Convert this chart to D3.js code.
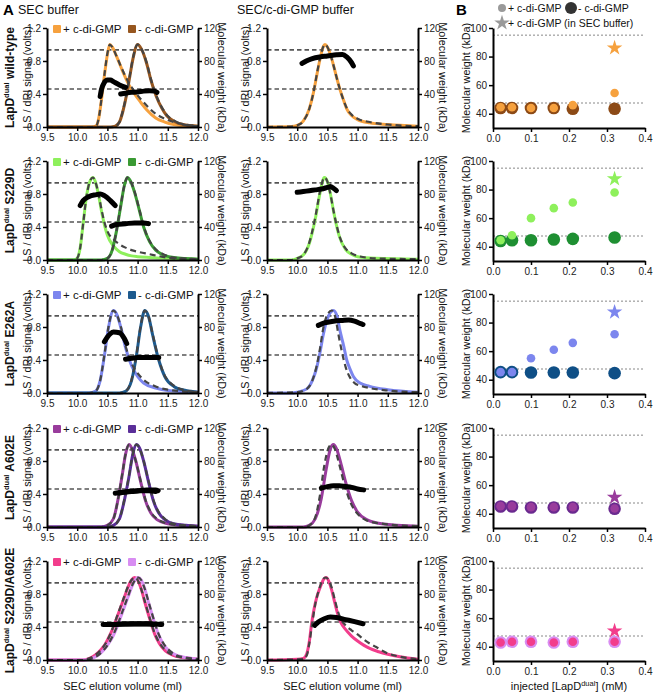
<!DOCTYPE html>
<html><head><meta charset="utf-8">
<script src="https://cdn.jsdelivr.net/npm/d3@7"></script>
<style>body{margin:0;background:#fff}svg{font-family:"Liberation Sans",Arial,Helvetica,sans-serif}</style>
</head><body><svg id="c" width="656" height="696"></svg>
<script>
// ---------------- DATA ----------------
// elution volume (ml) vs normalized signal; MW traces in kDa
const wtSecPlus = [[9.5,0],[10.25,0],[10.32,0.02],[10.36,0.12],[10.4,0.32],[10.45,0.62],[10.5,0.88],[10.54,1.0],[10.58,0.97],[10.65,0.86],[10.75,0.68],[10.85,0.52],[10.95,0.4],[11.05,0.3],[11.15,0.21],[11.3,0.11],[11.45,0.06],[11.6,0.03],[11.8,0.015],[12.0,0.01]];
const wtSecPlusLS = [[9.5,0],[10.25,0],[10.32,0.02],[10.36,0.12],[10.4,0.33],[10.45,0.63],[10.5,0.89],[10.54,1.0],[10.58,0.97],[10.65,0.86],[10.75,0.69],[10.85,0.54],[10.95,0.43],[11.05,0.34],[11.15,0.26],[11.3,0.16],[11.45,0.1],[11.6,0.06],[11.8,0.03],[12.0,0.01]];
const wtSecMinus = [[9.5,0],[10.55,0],[10.63,0.01],[10.7,0.06],[10.76,0.2],[10.82,0.4],[10.87,0.61],[10.93,0.85],[11.0,1.0],[11.06,0.95],[11.15,0.77],[11.22,0.57],[11.31,0.37],[11.4,0.23],[11.48,0.14],[11.6,0.07],[11.75,0.03],[12.0,0.01]];
const wtSecMinusLS = [[9.5,0],[10.55,0],[10.63,0.01],[10.7,0.06],[10.76,0.21],[10.82,0.41],[10.87,0.62],[10.93,0.86],[11.0,1.0],[11.06,0.95],[11.15,0.78],[11.22,0.58],[11.31,0.38],[11.4,0.24],[11.48,0.15],[11.6,0.08],[11.75,0.03],[12.0,0.01]];
const wtSecPlusMW = [[10.38,37],[10.4,45],[10.45,54],[10.5,57],[10.55,57],[10.6,55],[10.7,51],[10.8,48]];
const wtSecMinusMW = [[10.72,40],[10.8,41],[10.9,42],[11.0,42.5],[11.1,43.5],[11.2,44],[11.28,43.5],[11.32,42]];
const wtCdg = [[9.5,0],[9.9,0.005],[10.0,0.02],[10.1,0.07],[10.2,0.22],[10.27,0.42],[10.33,0.65],[10.38,0.83],[10.43,0.97],[10.46,1.0],[10.5,0.97],[10.55,0.88],[10.6,0.75],[10.66,0.58],[10.71,0.45],[10.77,0.32],[10.82,0.22],[10.9,0.14],[11.0,0.09],[11.2,0.05],[11.5,0.03],[12.0,0.01]];
const wtCdgLS = [[9.5,0],[9.9,0.005],[10.0,0.02],[10.1,0.07],[10.2,0.22],[10.27,0.42],[10.33,0.66],[10.38,0.84],[10.43,0.97],[10.46,1.0],[10.5,0.97],[10.55,0.88],[10.6,0.75],[10.66,0.58],[10.71,0.45],[10.77,0.32],[10.82,0.23],[10.9,0.15],[11.0,0.1],[11.2,0.06],[11.5,0.03],[12.0,0.01]];
const wtCdgMW = [[10.08,77],[10.15,80],[10.25,83],[10.38,85],[10.5,86],[10.65,87.5],[10.75,88],[10.82,85],[10.9,78],[10.93,74]];

const s229dSecPlus = [[9.5,0],[9.95,0],[10.0,0.02],[10.05,0.15],[10.1,0.45],[10.15,0.75],[10.2,0.93],[10.26,1.0],[10.3,0.95],[10.35,0.8],[10.4,0.6],[10.45,0.43],[10.5,0.3],[10.6,0.17],[10.7,0.1],[10.8,0.07],[10.9,0.05],[11.0,0.04],[11.2,0.03],[11.5,0.02],[12.0,0.01]];
const s229dSecPlusLS = [[9.5,0],[9.95,0],[10.0,0.02],[10.05,0.15],[10.1,0.45],[10.15,0.75],[10.2,0.93],[10.26,1.0],[10.3,0.95],[10.35,0.81],[10.4,0.62],[10.45,0.46],[10.5,0.35],[10.6,0.25],[10.7,0.19],[10.8,0.15],[10.9,0.12],[11.0,0.1],[11.2,0.07],[11.4,0.04],[11.6,0.02],[12.0,0.01]];
const s229dSecMinus = [[9.5,0],[10.4,0],[10.5,0.02],[10.58,0.12],[10.65,0.35],[10.72,0.65],[10.78,0.9],[10.83,1.0],[10.88,0.96],[10.95,0.82],[11.03,0.6],[11.1,0.4],[11.2,0.22],[11.3,0.12],[11.4,0.07],[11.6,0.03],[12.0,0.01]];
const s229dSecMinusLS = [[9.5,0],[10.4,0],[10.5,0.02],[10.58,0.12],[10.65,0.35],[10.72,0.66],[10.78,0.9],[10.83,1.0],[10.88,0.96],[10.95,0.83],[11.03,0.61],[11.1,0.41],[11.2,0.23],[11.3,0.13],[11.4,0.08],[11.6,0.03],[12.0,0.01]];
const s229dSecPlusMW = [[10.05,66],[10.1,72],[10.2,77],[10.3,79],[10.38,80],[10.45,78],[10.55,72],[10.63,66]];
const s229dSecMinusMW = [[10.57,41],[10.65,43],[10.8,44],[10.95,45],[11.1,45],[11.18,44]];
const s229dCdg = [[9.5,0],[9.9,0],[10.0,0.02],[10.1,0.06],[10.2,0.2],[10.3,0.5],[10.38,0.82],[10.45,1.0],[10.5,0.95],[10.55,0.8],[10.6,0.6],[10.65,0.42],[10.7,0.28],[10.8,0.13],[10.9,0.07],[11.0,0.04],[11.3,0.02],[12.0,0.01]];
const s229dCdgLS = [[9.5,0],[9.9,0],[10.0,0.02],[10.1,0.06],[10.2,0.21],[10.3,0.52],[10.38,0.84],[10.45,1.0],[10.5,0.95],[10.55,0.8],[10.6,0.6],[10.65,0.43],[10.7,0.29],[10.8,0.14],[10.9,0.08],[11.0,0.05],[11.3,0.02],[12.0,0.01]];
const s229dCdgMW = [[10.0,82],[10.1,83],[10.2,84],[10.3,85],[10.4,86],[10.5,88],[10.55,89],[10.6,87],[10.65,84]];

const e262aSecPlus = [[9.5,0],[10.2,0],[10.3,0.02],[10.38,0.15],[10.45,0.45],[10.52,0.8],[10.6,1.0],[10.65,0.96],[10.72,0.8],[10.8,0.55],[10.9,0.33],[11.0,0.2],[11.1,0.12],[11.3,0.06],[11.5,0.03],[12.0,0.01]];
const e262aSecPlusLS = [[9.5,0],[10.2,0],[10.3,0.02],[10.38,0.15],[10.45,0.46],[10.52,0.81],[10.6,1.0],[10.65,0.96],[10.72,0.81],[10.8,0.57],[10.9,0.36],[11.0,0.24],[11.1,0.16],[11.3,0.08],[11.5,0.04],[12.0,0.01]];
const e262aSecMinus = [[9.5,0],[10.7,0],[10.8,0.02],[10.9,0.15],[10.98,0.45],[11.05,0.8],[11.12,1.0],[11.18,0.93],[11.25,0.7],[11.35,0.4],[11.45,0.2],[11.6,0.08],[11.8,0.03],[12.0,0.01]];
const e262aSecMinusLS = [[9.5,0],[10.7,0],[10.8,0.02],[10.9,0.16],[10.98,0.46],[11.05,0.81],[11.12,1.0],[11.18,0.93],[11.25,0.71],[11.35,0.41],[11.45,0.21],[11.6,0.09],[11.8,0.03],[12.0,0.01]];
const e262aSecPlusMW = [[10.45,62],[10.5,68],[10.55,72],[10.6,74],[10.7,73],[10.78,66],[10.82,60]];
const e262aSecMinusMW = [[10.8,41],[10.9,42],[11.0,43],[11.2,43],[11.35,43]];
const e262aCdg = [[9.5,0],[9.9,0],[10.0,0.01],[10.16,0.05],[10.25,0.15],[10.32,0.3],[10.38,0.5],[10.43,0.7],[10.5,0.9],[10.6,1.0],[10.66,0.93],[10.71,0.75],[10.77,0.57],[10.82,0.4],[10.88,0.28],[10.93,0.2],[11.04,0.12],[11.2,0.08],[11.5,0.04],[12.0,0.01]];
const e262aCdgLS = [[9.5,0],[10.0,0.01],[10.16,0.05],[10.25,0.15],[10.32,0.32],[10.38,0.55],[10.43,0.78],[10.5,0.95],[10.57,1.0],[10.63,0.92],[10.68,0.72],[10.74,0.5],[10.8,0.32],[10.88,0.18],[10.95,0.12],[11.04,0.09],[11.2,0.06],[11.5,0.03],[12.0,0.01]];
const e262aCdgMW = [[10.35,82],[10.45,85],[10.6,87],[10.75,88],[10.85,88.5],[10.95,87],[11.05,84],[11.09,83]];

const a602eSecPlus = [[9.5,0],[10.4,0],[10.5,0.02],[10.6,0.1],[10.68,0.35],[10.75,0.65],[10.8,0.88],[10.86,1.0],[10.9,0.96],[10.97,0.8],[11.05,0.55],[11.13,0.32],[11.22,0.17],[11.32,0.09],[11.5,0.04],[11.7,0.02],[12.0,0.01]];
const a602eSecPlusLS = [[9.5,0],[10.4,0],[10.5,0.02],[10.6,0.1],[10.68,0.35],[10.75,0.66],[10.8,0.88],[10.86,1.0],[10.9,0.96],[10.97,0.8],[11.05,0.56],[11.13,0.33],[11.22,0.18],[11.32,0.1],[11.5,0.04],[11.7,0.02],[12.0,0.01]];
const a602eSecMinus = [[9.5,0],[10.5,0],[10.6,0.02],[10.7,0.1],[10.78,0.32],[10.86,0.62],[10.92,0.88],[10.98,1.0],[11.03,0.96],[11.1,0.8],[11.18,0.55],[11.26,0.32],[11.35,0.17],[11.45,0.09],[11.6,0.04],[11.8,0.02],[12.0,0.01]];
const a602eSecMinusLS = [[9.5,0],[10.5,0],[10.6,0.02],[10.7,0.1],[10.78,0.33],[10.86,0.63],[10.92,0.88],[10.98,1.0],[11.03,0.96],[11.1,0.8],[11.18,0.56],[11.26,0.33],[11.35,0.18],[11.45,0.1],[11.6,0.04],[11.8,0.02],[12.0,0.01]];
const a602eSecPlusMW = [[10.63,41],[10.75,42],[10.9,43],[11.05,44],[11.2,44],[11.3,43]];
const a602eSecMinusMW = [[10.7,41],[10.85,43],[11.0,44],[11.15,45],[11.3,45],[11.34,44]];
const a602eCdg = [[9.5,0],[10.1,0],[10.2,0.02],[10.3,0.1],[10.4,0.35],[10.48,0.7],[10.55,0.95],[10.6,1.0],[10.65,0.95],[10.72,0.78],[10.8,0.55],[10.9,0.32],[11.0,0.18],[11.15,0.09],[11.4,0.04],[12.0,0.01]];
const a602eCdgLS = [[9.5,0],[10.1,0],[10.2,0.02],[10.3,0.12],[10.38,0.4],[10.45,0.75],[10.52,0.96],[10.57,1.0],[10.62,0.95],[10.7,0.75],[10.78,0.52],[10.88,0.3],[11.0,0.16],[11.15,0.08],[11.4,0.04],[12.0,0.01]];
const a602eCdgMW = [[10.4,47],[10.5,49],[10.6,50],[10.7,50],[10.8,49],[10.9,48],[11.0,46],[11.1,45]];

const dmSecPlus = [[9.5,0],[10.1,0],[10.2,0.02],[10.3,0.06],[10.4,0.13],[10.47,0.2],[10.54,0.3],[10.6,0.4],[10.65,0.5],[10.72,0.64],[10.78,0.76],[10.84,0.88],[10.9,0.97],[10.95,1.0],[11.0,0.97],[11.06,0.86],[11.12,0.7],[11.2,0.5],[11.28,0.32],[11.36,0.2],[11.46,0.11],[11.58,0.06],[11.75,0.03],[12.0,0.01]];
const dmSecPlusLS = [[9.5,0],[10.1,0],[10.2,0.02],[10.3,0.06],[10.4,0.13],[10.47,0.2],[10.54,0.3],[10.6,0.41],[10.65,0.51],[10.72,0.65],[10.78,0.77],[10.84,0.89],[10.9,0.97],[10.95,1.0],[11.0,0.97],[11.06,0.86],[11.12,0.71],[11.2,0.51],[11.28,0.33],[11.36,0.21],[11.46,0.12],[11.58,0.06],[11.75,0.03],[12.0,0.01]];
const dmSecMinus = [[9.5,0],[10.15,0],[10.25,0.02],[10.35,0.06],[10.45,0.13],[10.52,0.2],[10.6,0.3],[10.66,0.4],[10.71,0.5],[10.78,0.64],[10.84,0.76],[10.9,0.88],[10.96,0.97],[11.01,1.0],[11.06,0.97],[11.12,0.86],[11.18,0.7],[11.26,0.5],[11.34,0.32],[11.42,0.2],[11.52,0.11],[11.64,0.06],[11.8,0.03],[12.0,0.01]];
const dmSecMinusLS = [[9.5,0],[10.15,0],[10.25,0.02],[10.35,0.06],[10.45,0.13],[10.52,0.2],[10.6,0.31],[10.66,0.41],[10.71,0.51],[10.78,0.65],[10.84,0.77],[10.9,0.89],[10.96,0.97],[11.01,1.0],[11.06,0.97],[11.12,0.86],[11.18,0.71],[11.26,0.51],[11.34,0.33],[11.42,0.21],[11.52,0.12],[11.64,0.06],[11.8,0.03],[12.0,0.01]];
const dmSecPlusMW = [[10.43,43],[10.6,43],[10.8,43.5],[11.0,43.5],[11.2,43.5],[11.26,43]];
const dmSecMinusMW = [[10.55,43],[10.75,43.5],[10.95,44],[11.15,44],[11.3,43.5],[11.4,43]];
const dmCdg = [[9.5,0],[10.0,0.01],[10.1,0.02],[10.16,0.08],[10.2,0.22],[10.24,0.45],[10.28,0.62],[10.32,0.75],[10.38,0.88],[10.44,0.98],[10.48,1.0],[10.52,0.96],[10.57,0.85],[10.62,0.7],[10.67,0.56],[10.72,0.46],[10.8,0.37],[10.9,0.29],[11.0,0.23],[11.1,0.18],[11.2,0.14],[11.35,0.1],[11.5,0.07],[11.7,0.04],[12.0,0.01]];
const dmCdgLS = [[9.5,0],[10.1,0.01],[10.16,0.06],[10.2,0.2],[10.25,0.45],[10.3,0.68],[10.36,0.85],[10.42,0.97],[10.47,1.0],[10.52,0.97],[10.57,0.88],[10.62,0.74],[10.67,0.6],[10.72,0.5],[10.8,0.42],[10.9,0.36],[11.0,0.31],[11.1,0.25],[11.2,0.2],[11.3,0.16],[11.5,0.08],[11.7,0.04],[12.0,0.01]];
const dmCdgMW = [[10.29,42],[10.35,46],[10.45,50],[10.55,52],[10.65,51.5],[10.8,49],[10.95,46.5],[11.09,44]];

// Panel B: injected concentration (mM) vs molecular weight (kDa)
const injectedConc = [0.02, 0.05, 0.1, 0.16, 0.21, 0.32];
const wtBPlus = [44.5, 44.5, 44, 44, 46, 54.5];
const wtBMinus = [44, 44, 44, 44, 43.5, 43.5];
const s229dBPlus = [44.5, 48, 60, 67, 71, 78];
const s229dBMinus = [44, 44.5, 44.5, 45, 45.5, 46.5];
const e262aBPlus = [45.3, 45.3, 55, 61, 65.8, 71.8];
const e262aBMinus = [45.3, 45.3, 45, 45, 45, 44.6];
const a602eBPlus = [45.3, 45.3, 44.6, 44.6, 44.6, 43.7];
const a602eBMinus = [45, 45, 44.3, 44.3, 44.3, 43.5];
const dmBPlus = [43, 43.5, 43.5, 43, 43.5, 43.5];
const dmBMinus = [43, 43.5, 43.5, 43, 43.5, 43.5];
const secBufferStar = [86, 87.5, 87.3, 51.5, 51];
const starConc = 0.32;

const rowNames = [" wild-type", " S229D", " E262A", " A602E", " S229D/A602E"];
const plusColors = ["#f6a13e", "#8ef05c", "#7c86ee", "#993c9c", "#f23d8c"];
const minusColors = ["#96561f", "#3a9a33", "#1d5a8e", "#5a2e99", "#d88df2"];
const bMinusColors = ["#8c4a16", "#1e8f32", "#0f4f86", "#6a2a8f", "#d88df2"];
const mwRef = [93.5, 46];      // dashed guides in A (kDa)
const mwRefB = [95, 47.5];     // dotted guides in B (kDa)
const xTicksA = [9.5, 10.0, 10.5, 11.0, 11.5, 12.0];
const yTicksA = [0, 0.4, 0.8, 1.2];
const yTicksAR = [0, 40, 80, 120];
const xTicksB = [0, 0.1, 0.2, 0.3, 0.4];
const yTicksB = [40, 60, 80, 100];

const rows = [
 {sp:wtSecPlus, spl:wtSecPlusLS, sm:wtSecMinus, sml:wtSecMinusLS, spm:wtSecPlusMW, smm:wtSecMinusMW, c:wtCdg, cl:wtCdgLS, cm:wtCdgMW, bp:wtBPlus, bm:wtBMinus},
 {sp:s229dSecPlus, spl:s229dSecPlusLS, sm:s229dSecMinus, sml:s229dSecMinusLS, spm:s229dSecPlusMW, smm:s229dSecMinusMW, c:s229dCdg, cl:s229dCdgLS, cm:s229dCdgMW, bp:s229dBPlus, bm:s229dBMinus},
 {sp:e262aSecPlus, spl:e262aSecPlusLS, sm:e262aSecMinus, sml:e262aSecMinusLS, spm:e262aSecPlusMW, smm:e262aSecMinusMW, c:e262aCdg, cl:e262aCdgLS, cm:e262aCdgMW, bp:e262aBPlus, bm:e262aBMinus},
 {sp:a602eSecPlus, spl:a602eSecPlusLS, sm:a602eSecMinus, sml:a602eSecMinusLS, spm:a602eSecPlusMW, smm:a602eSecMinusMW, c:a602eCdg, cl:a602eCdgLS, cm:a602eCdgMW, bp:a602eBPlus, bm:a602eBMinus},
 {sp:dmSecPlus, spl:dmSecPlusLS, sm:dmSecMinus, sml:dmSecMinusLS, spm:dmSecPlusMW, smm:dmSecMinusMW, c:dmCdg, cl:dmCdgLS, cm:dmCdgMW, bp:dmBPlus, bm:dmBMinus}
];

// ---------------- LAYOUT ----------------
const FONT = '"Liberation Sans", Arial, Helvetica, sans-serif';
const svg = d3.select("#c");
const rowTop = [28, 161, 294, 428, 561];
const hA = 99, hB = 100;
const colA = [47, 267], wA = 151;
const xB0 = 493, xB1 = 645;

function styleAxis(g) {
  g.attr("font-family", FONT).attr("font-size", 10);
  g.select(".domain").attr("stroke", "#000").attr("stroke-width", 2);
  g.selectAll(".tick line").attr("stroke", "#000").attr("stroke-width", 1.5);
  g.selectAll(".tick text").attr("fill", "#222");
}
function vText(x, y, rot, txt, size, weight) {
  return svg.append("text").attr("transform", `translate(${x},${y}) rotate(${rot})`)
    .attr("text-anchor", "middle").attr("dy", "0.35em").attr("font-size", size)
    .attr("font-weight", weight || "normal").attr("fill", "#111").text(txt);
}

// headings
svg.append("text").attr("x", 3).attr("y", 15).attr("font-size", 15).attr("font-weight", "bold").text("A");
svg.append("text").attr("x", 18).attr("y", 14).attr("font-size", 12.5).attr("fill", "#111").text("SEC buffer");
svg.append("text").attr("x", 237).attr("y", 14).attr("font-size", 12.5).attr("fill", "#111").text("SEC/c-di-GMP buffer");
svg.append("text").attr("x", 456).attr("y", 15).attr("font-size", 15).attr("font-weight", "bold").text("B");
// B legend
svg.append("circle").attr("cx", 502).attr("cy", 8).attr("r", 4).attr("fill", "#9a9a9a");
svg.append("text").attr("x", 508).attr("y", 12).attr("font-size", 10.5).attr("fill", "#111").text("+ c-di-GMP");
svg.append("circle").attr("cx", 571).attr("cy", 8).attr("r", 6).attr("fill", "#333");
svg.append("text").attr("x", 578).attr("y", 12).attr("font-size", 10.5).attr("fill", "#111").text("- c-di-GMP");
svg.append("path").attr("d", d3.symbol(d3.symbolStar, 75)()).attr("transform", "translate(502,23)").attr("fill", "#9a9a9a");
svg.append("text").attr("x", 508).attr("y", 27).attr("font-size", 10.5).attr("fill", "#111").text("+ c-di-GMP (in SEC buffer)");

function panelA(ci, ri, traces, mws, legend) {
  const x0 = colA[ci], top = rowTop[ri], bot = top + hA;
  const x = d3.scaleLinear().domain([9.5, 12]).range([x0, x0 + wA]);
  const y = d3.scaleLinear().domain([0, 1.2]).range([bot, top]);
  const yR = d3.scaleLinear().domain([0, 120]).range([bot, top]);
  const g = svg.append("g");
  mwRef.forEach(v => g.append("line").attr("x1", x0).attr("x2", x0 + wA).attr("y1", yR(v)).attr("y2", yR(v))
    .attr("stroke", "#555").attr("stroke-width", 1.6).attr("stroke-dasharray", "4.5,3"));
  const line = d3.line().x(d => x(d[0])).y(d => y(d[1])).curve(d3.curveMonotoneX);
  const mwLine = d3.line().x(d => x(d[0])).y(d => yR(d[1])).curve(d3.curveMonotoneX);
  traces.forEach(t => g.append("path").attr("d", line(t.d)).attr("fill", "none").attr("stroke", t.col).attr("stroke-width", 3));
  traces.forEach(t => g.append("path").attr("d", line(t.ls)).attr("fill", "none").attr("stroke", "#444").attr("stroke-width", 2.2).attr("stroke-dasharray", "6,4"));
  mws.forEach(m => g.append("path").attr("d", mwLine(m)).attr("fill", "none").attr("stroke", "#000").attr("stroke-width", 5).attr("stroke-linecap", "round"));
  const ax = g.append("g").attr("transform", `translate(0,${bot})`)
    .call(d3.axisBottom(x).tickValues(xTicksA).tickFormat(d3.format(".1f")).tickSize(4).tickSizeOuter(0).tickPadding(3));
  styleAxis(ax);
  const ay = g.append("g").attr("transform", `translate(${x0},0)`)
    .call(d3.axisLeft(y).tickValues(yTicksA).tickFormat(d3.format(".1f")).tickSize(4).tickSizeOuter(0).tickPadding(2));
  styleAxis(ay);
  const ayr = g.append("g").attr("transform", `translate(${x0 + wA},0)`)
    .call(d3.axisRight(yR).tickValues(yTicksAR).tickFormat(d3.format("d")).tickSize(4).tickSizeOuter(0).tickPadding(2));
  styleAxis(ayr);
  if (legend) {
    const items = [{t: "+ c-di-GMP", c: legend[0], dx: 6}, {t: "- c-di-GMP", c: legend[1], dx: 81}];
    items.forEach(it => {
      g.append("rect").attr("x", x0 + it.dx).attr("y", top - 3).attr("width", 8).attr("height", 8).attr("rx", 1).attr("fill", it.c);
      g.append("text").attr("x", x0 + it.dx + 10).attr("y", top + 5).attr("font-size", 11.5).attr("fill", "#111").text(it.t);
    });
  }
  const cy = (top + bot) / 2;
  vText(ci === 0 ? 27 : 245, cy, -90, "LS / dRI signal (volts)", 10.8);
  vText(ci === 0 ? 222 : 443, cy, 90, "Molecular weight (kDa)", 10.8);
  if (ri === 4) {
    svg.append("text").attr("x", x0 + wA / 2).attr("y", 690).attr("text-anchor", "middle").attr("font-size", 11).attr("fill", "#111").text("SEC elution volume (ml)");
  }
}

function panelB(ri, r) {
  const top = rowTop[ri], bot = top + hB;
  const x = d3.scaleLinear().domain([0, 0.4]).range([xB0, xB1]);
  const y = d3.scaleLinear().domain([30, 100]).range([bot, top]);
  const g = svg.append("g");
  mwRefB.forEach(v => g.append("line").attr("x1", xB0).attr("x2", xB1).attr("y1", y(v)).attr("y2", y(v))
    .attr("stroke", "#888").attr("stroke-width", 1).attr("stroke-dasharray", "2,2"));
  const ax = g.append("g").attr("transform", `translate(0,${bot})`)
    .call(d3.axisBottom(x).tickValues(xTicksB).tickFormat(d3.format(".1f")).tickSize(4).tickSizeOuter(0).tickPadding(3));
  styleAxis(ax);
  const ay = g.append("g").attr("transform", `translate(${xB0},0)`)
    .call(d3.axisLeft(y).tickValues(yTicksB).tickFormat(d3.format("d")).tickSize(4).tickSizeOuter(0).tickPadding(2));
  styleAxis(ay);
  g.selectAll(null).data(injectedConc).enter().append("circle")
    .attr("cx", d => x(d)).attr("cy", (d, i) => y(r.bm[i])).attr("r", 6.3).attr("fill", bMinusColors[ri]);
  g.selectAll(null).data(injectedConc).enter().append("circle")
    .attr("cx", d => x(d)).attr("cy", (d, i) => y(r.bp[i])).attr("r", 4.3).attr("fill", plusColors[ri]);
  g.append("path").attr("d", d3.symbol(d3.symbolStar, 75)())
    .attr("transform", `translate(${x(starConc)},${y(secBufferStar[ri])})`).attr("fill", plusColors[ri]);
  vText(466, (top + bot) / 2, -90, "Molecular weight (kDa)", 10.8);
  if (ri === 4) {
    const t = svg.append("text").attr("x", (xB0 + xB1) / 2).attr("y", 690).attr("text-anchor", "middle").attr("font-size", 11).attr("fill", "#111");
    t.append("tspan").text("injected [LapD");
    t.append("tspan").attr("font-size", 7.5).attr("dy", -4).text("dual");
    t.append("tspan").attr("dy", 4).text("] (mM)");
  }
}

rows.forEach((r, i) => {
  panelA(0, i, [{d: r.sp, ls: r.spl, col: plusColors[i]}, {d: r.sm, ls: r.sml, col: minusColors[i]}], [r.spm, r.smm], [plusColors[i], minusColors[i]]);
  panelA(1, i, [{d: r.c, ls: r.cl, col: plusColors[i]}], [r.cm], null);
  panelB(i, r);
  // row label
  const cy = rowTop[i] + hA / 2;
  const t = svg.append("text").attr("transform", `translate(10,${cy}) rotate(-90)`).attr("text-anchor", "middle")
    .attr("dy", "0.35em").attr("font-size", 12).attr("font-weight", "bold").attr("fill", "#111");
  t.append("tspan").text("LapD");
  t.append("tspan").attr("font-size", 7.5).attr("dy", -5).text("dual");
  t.append("tspan").attr("dy", 5).text(rowNames[i]);
});
</script></body></html>
